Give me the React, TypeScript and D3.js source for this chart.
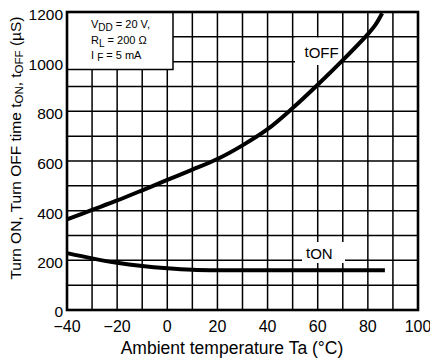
import React from "react";
import * as d3 from "d3";

const xTicks = [-40, -20, 0, 20, 40, 60, 80, 100];
const yTicks = [0, 200, 400, 600, 800, 1000, 1200];
const xGrid = [-40, -30, -20, -10, 0, 10, 20, 30, 40, 50, 60, 70, 80, 90, 100];
const yGrid = [0, 100, 200, 300, 400, 500, 600, 700, 800, 900, 1000, 1100, 1200];

const toffTemp = [-40, -30, -20, -10, 0, 10, 20, 30, 40, 50, 60, 70, 80, 83, 85.7];
const toffValues = [365, 403, 441, 482, 524, 565, 608, 663, 728, 813, 907, 1006, 1111, 1148, 1195];

const tonTemp = [-40, -30, -20, -10, 0, 10, 20, 40, 60, 86.8];
const tonValues = [229, 208, 190, 177, 168, 162, 160, 160, 160, 160];

const FONT = "'Liberation Sans', Arial, Helvetica, sans-serif";

export default function App() {
  const W = 430, H = 358;
  const left = 67, right = 418, top = 12, bottom = 310;
  const x = d3.scaleLinear().domain([-40, 100]).range([left, right]);
  const y = d3.scaleLinear().domain([0, 1200]).range([bottom, top]);

  const line = d3
    .line<[number, number]>()
    .x((d) => x(d[0]))
    .y((d) => y(d[1]))
    .curve(d3.curveCatmullRom.alpha(0.5));

  const toffPath = line(toffTemp.map((t, i) => [t, toffValues[i]]) as [number, number][]) || "";
  const tonPath = line(tonTemp.map((t, i) => [t, tonValues[i]]) as [number, number][]) || "";

  return (
    <svg
      width={W}
      height={H}
      style={{ position: "absolute", left: 0, top: 0, background: "#fff" }}
      fontFamily={FONT}
    >
      <rect x={0} y={0} width={W} height={H} fill="#fff" />
      {/* grid */}
      {xGrid.map((v) => (
        <line key={"gx" + v} x1={x(v)} x2={x(v)} y1={top} y2={bottom} stroke="#000" strokeWidth={1.5} />
      ))}
      {yGrid.map((v) => (
        <line key={"gy" + v} x1={left} x2={right} y1={y(v)} y2={y(v)} stroke="#000" strokeWidth={1.5} />
      ))}
      {/* label backgrounds */}
      <rect x={295} y={37.5} width={46} height={27.5} fill="#fff" />
      <rect x={302} y={242} width={43} height={21} fill="#fff" />
      {/* legend box */}
      <rect x={67} y={12} width={106} height={57.5} fill="#fff" stroke="#000" strokeWidth={1.5} />
      <g fontSize={11} fill="#000">
        <text x={91} y={28.3}>
          V<tspan fontSize={10} dy={2.5}>DD</tspan>
          <tspan dy={-2.5}> = 20 V,</tspan>
        </text>
        <text x={91} y={44}>
          R<tspan fontSize={10} dy={2.5}>L</tspan>
          <tspan dy={-2.5}> = 200 Ω</tspan>
        </text>
        <text x={91} y={58.5}>
          I <tspan fontSize={10} dy={2.5}>F</tspan>
          <tspan dy={-2.5}> = 5 mA</tspan>
        </text>
      </g>
      {/* border */}
      <rect x={left} y={top} width={right - left} height={bottom - top} fill="none" stroke="#000" strokeWidth={2.6} />
      {/* curves */}
      <path d={toffPath} fill="none" stroke="#000" strokeWidth={4} strokeLinecap="butt" />
      <path d={tonPath} fill="none" stroke="#000" strokeWidth={4} strokeLinecap="butt" />
      {/* curve labels */}
      <text x={304.5} y={56.5} fontSize={15} fill="#000">
        t<tspan dy={1.8}>OFF</tspan>
      </text>
      <text x={306} y={258} fontSize={15} fill="#000">
        t<tspan dy={1.3}>ON</tspan>
      </text>
      {/* y tick labels */}
      {yTicks.map((v) => (
        <text key={"yt" + v} x={63} y={y(v) + (v === 0 ? 7 : 8)} textAnchor="end" fontSize={15.5} fill="#000">
          {v}
        </text>
      ))}
      {/* x tick labels */}
      {xTicks.map((v) => (
        <text key={"xt" + v} x={x(v)} y={332} textAnchor="middle" fontSize={16} fill="#000">
          {v < 0 ? "\u2212" + Math.abs(v) : v}
        </text>
      ))}
      {/* axis titles */}
      <text x={232} y={353.5} textAnchor="middle" fontSize={17.5} fill="#000">
        Ambient temperature Ta (°C)
      </text>
      <text transform="translate(21,148) rotate(-90)" textAnchor="middle" fontSize={15.5} fill="#000">
        Turn ON, Turn OFF time t<tspan fontSize={11.5} dy={1.5}>ON</tspan>
        <tspan dy={-1.5}>, t</tspan>
        <tspan fontSize={11.5} dy={1.5}>OFF</tspan>
        <tspan dy={-1.5}> (µS)</tspan>
      </text>
    </svg>
  );
}
